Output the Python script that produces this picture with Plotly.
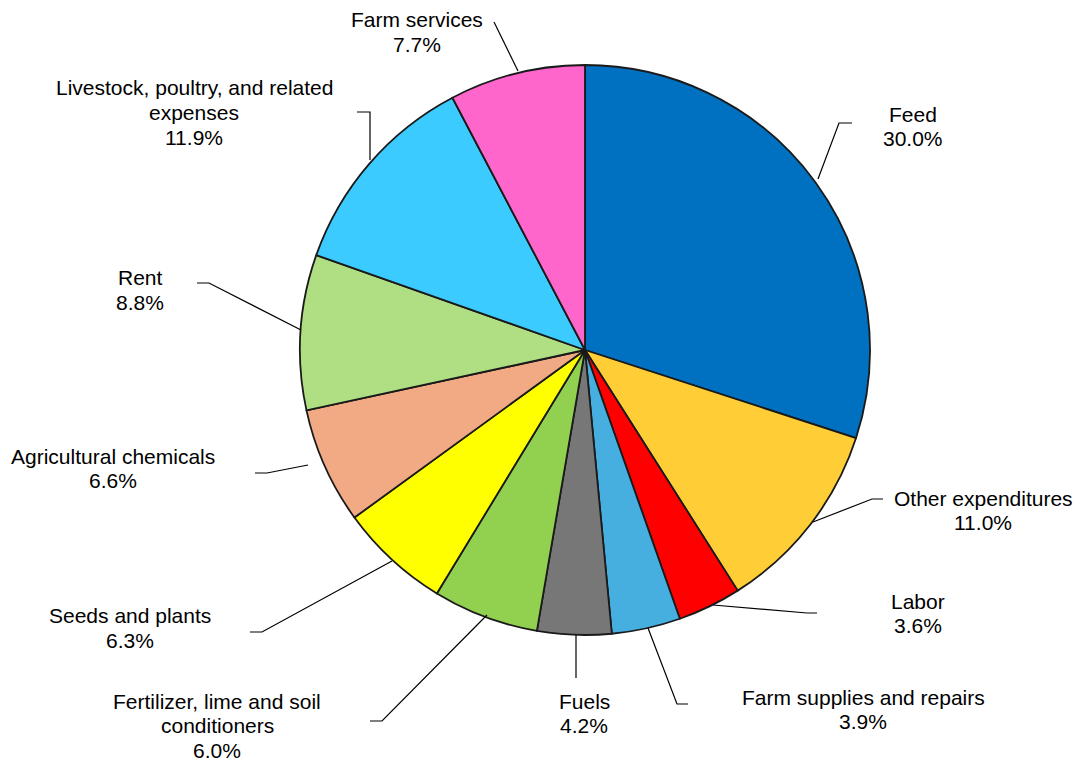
import plotly.graph_objects as go

W, H = 1080, 761

# ---- data ----
categories = ["Feed", "Other expenditures", "Labor", "Farm supplies and repairs", "Fuels",
              "Fertilizer, lime and soil conditioners", "Seeds and plants", "Agricultural chemicals",
              "Rent", "Livestock, poultry, and related expenses", "Farm services"]
shares = [30.0, 11.0, 3.6, 3.9, 4.2, 6.0, 6.3, 6.6, 8.8, 11.9, 7.7]
display_labels = [["Feed"], ["Other expenditures"], ["Labor"], ["Farm supplies and repairs"], ["Fuels"],
                  ["Fertilizer, lime and soil", "conditioners"], ["Seeds and plants"], ["Agricultural chemicals"],
                  ["Rent"], ["Livestock, poultry, and related", "expenses"], ["Farm services"]]

# ---- styles / layout ----
colors = ["#0070C0", "#FFCD35", "#FF0000", "#47AFE0", "#777777", "#92D050",
          "#FFFF00", "#F1AA83", "#B0DF83", "#3BCBFF", "#FF66CC"]
# label centres (pixels)
label_pos = [(913, 126.5), (983, 510.5), (918, 613.5), (863, 709.5), (584, 713.5),
             (217, 725.5), (130, 628), (113, 468.5), (140, 290), (194, 112.5), (417, 32)]
line_gap = 24.5
# leader line polylines (pixels)
leaders = [
    [(818, 179), (839, 123), (852, 123)],
    [(813, 522), (872, 499), (883, 499)],
    [(713, 605), (807, 613), (817, 613)],
    [(648, 628), (677, 704), (688, 704)],
    [(576, 635), (576, 678)],
    [(487, 615), (382, 721), (370, 721)],
    [(392, 561), (262, 632), (250, 632)],
    [(308, 465), (267, 473), (255, 473)],
    [(301, 330), (209, 283), (197, 283)],
    [(370, 160), (370, 112), (357, 112)],
    [(518, 71), (494, 22)],
]
cx, cy, r = 585, 350, 285

def px(x):
    return x / W

def py(y):
    return 1 - y / H

fig = go.Figure(go.Pie(
    labels=categories, values=shares, sort=False, direction="clockwise", rotation=0,
    marker=dict(colors=colors, line=dict(color="#1a1a1a", width=1.8)),
    textinfo="none", hoverinfo="label+percent", showlegend=False,
    domain=dict(x=[px(cx - r), px(cx + r)], y=[py(cy + r), py(cy - r)]),
))

annotations = []
for lab, v, (lx, ly) in zip(display_labels, shares, label_pos):
    lines = lab + [f"{v:.1f}%"]
    n = len(lines)
    for i, t in enumerate(lines):
        yy = ly + (i - (n - 1) / 2) * line_gap
        annotations.append(dict(
            x=px(lx), y=py(yy), xref="paper", yref="paper", xanchor="center", yanchor="middle",
            text=t, showarrow=False, align="center",
            font=dict(family="Liberation Sans, Arial, sans-serif", size=21, color="#000000"),
        ))

shapes = []
for pts in leaders:
    path = "M " + " L ".join(f"{px(x)},{py(y)}" for x, y in pts)
    shapes.append(dict(type="path", path=path, xref="paper", yref="paper",
                       line=dict(color="#000000", width=1.2)))

fig.update_layout(
    width=W, height=H, margin=dict(l=0, r=0, t=0, b=0),
    paper_bgcolor="white", plot_bgcolor="white",
    annotations=annotations, shapes=shapes,
)

fig.write_html("out.html", config={"displayModeBar": False},
               post_script="document.body.style.margin='0';document.body.style.overflow='hidden';")
